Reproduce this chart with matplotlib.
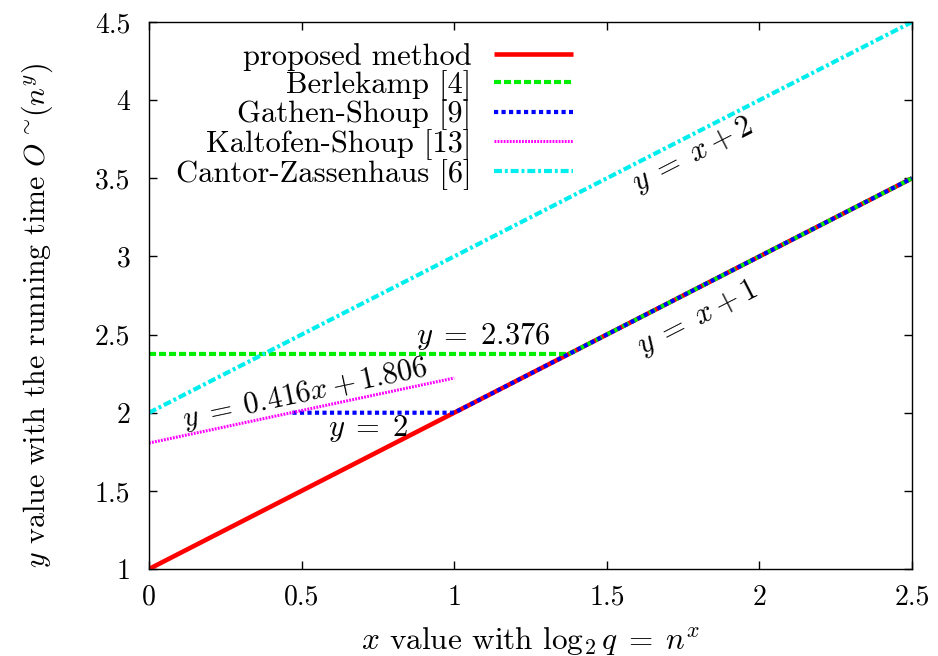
import numpy as np
import matplotlib
matplotlib.use("Agg")
import matplotlib.pyplot as plt

plt.rcParams['font.family'] = 'serif'
plt.rcParams['font.serif'] = ['cmr10']
plt.rcParams['mathtext.fontset'] = 'cm'
plt.rcParams['axes.formatter.use_mathtext'] = True
plt.rcParams['font.size'] = 20

# Data
proposed_x = [0, 2.5]
proposed_y = [1, 3.5]
berlekamp_x = [0, 1.376, 2.5]
berlekamp_y = [2.376, 2.376, 3.5]
gathen_x = [0.47, 1.0, 2.5]
gathen_y = [2.0, 2.0, 3.5]
kaltofen_x = [0, 1.0]
kaltofen_y = [1.806, 2.222]
cantor_x = [0, 2.5]
cantor_y = [2.0, 4.5]
labels = ["proposed method", "Berlekamp [4]", "Gathen-Shoup [9]",
          "Kaltofen-Shoup [13]", "Cantor-Zassenhaus [6]"]
xticks = [0, 0.5, 1, 1.5, 2, 2.5]
yticks = [1, 1.5, 2, 2.5, 3, 3.5, 4, 4.5]
xtick_labels = ["0", "0.5", "1", "1.5", "2", "2.5"]
ytick_labels = ["1", "1.5", "2", "2.5", "3", "3.5", "4", "4.5"]

fig = plt.figure(figsize=(9.38, 6.56), dpi=100)
ax = fig.add_axes([149/938, 1-569/656, (912-149)/938, (569-22)/656])

ax.plot(proposed_x, proposed_y, color='#ff0000', lw=3.3, solid_capstyle='butt', label=labels[0])
ax.plot(berlekamp_x, berlekamp_y, color='#00ee00', lw=3, dashes=(1.7, 0.7), label=labels[1])
ax.plot(gathen_x, gathen_y, color='#0000ff', lw=3, dashes=(1.0, 0.8), label=labels[2])
ax.plot(kaltofen_x, kaltofen_y, color='#ff00ff', lw=2.2, dashes=(0.6, 0.4), label=labels[3])
ax.plot(cantor_x, cantor_y, color='#00eeee', lw=3, dashes=(1.9, 0.7, 0.7, 0.7), label=labels[4])

ax.set_xlim(0, 2.5)
ax.set_ylim(1, 4.5)
ax.set_xticks(xticks)
ax.set_xticklabels(xtick_labels)
ax.set_yticks(yticks)
ax.set_yticklabels(ytick_labels)
ax.tick_params(direction='in', length=6, width=1, top=True, right=True, labelsize=20)
ax.tick_params(axis='x', pad=11)
ax.tick_params(axis='y', pad=13.5)
for s in ax.spines.values():
    s.set_linewidth(1)

ax.set_xlabel(r"$x$ value with $\log_2 q\;=\;n^x$", fontsize=22.5)
ax.xaxis.set_label_coords(0.5, -0.102)
ax.set_ylabel(r"$y$ value with the running time $O\,^{\sim}\!(n^y)$", fontsize=21.5)
ax.yaxis.set_label_coords(-0.123, 0.464)

ang1 = np.degrees(np.arctan(156.3/305.2))
ang2 = np.degrees(np.arctan(0.416*156.3/305.2))
fs = 22
ax.text(1.78, 3.65, r"$y\;=\;x+2$", rotation=ang1, ha='center', va='center', fontsize=fs, rotation_mode='anchor')
ax.text(1.796, 2.606, r"$y\;=\;x+1$", rotation=ang1, ha='center', va='center', fontsize=fs, rotation_mode='anchor')
ax.text(1.095, 2.485, r"$y\;=\;2.376$", ha='center', va='center', fontsize=fs)
ax.text(0.511, 2.12, r"$y\;=\;0.416x+1.806$", rotation=ang2, ha='center', va='center', fontsize=21.5, rotation_mode='anchor')
ax.text(0.718, 1.902, r"$y\;=\;2$", ha='center', va='center', fontsize=fs)

leg = ax.legend(loc='upper right', bbox_to_anchor=((573-149)/763, 1-(43-22)/547),
                markerfirst=False, frameon=False, borderpad=0, borderaxespad=0,
                handlelength=2.6, handletextpad=0.73, labelspacing=-0.04, fontsize=22)

fig.savefig("out.png", dpi=100)
